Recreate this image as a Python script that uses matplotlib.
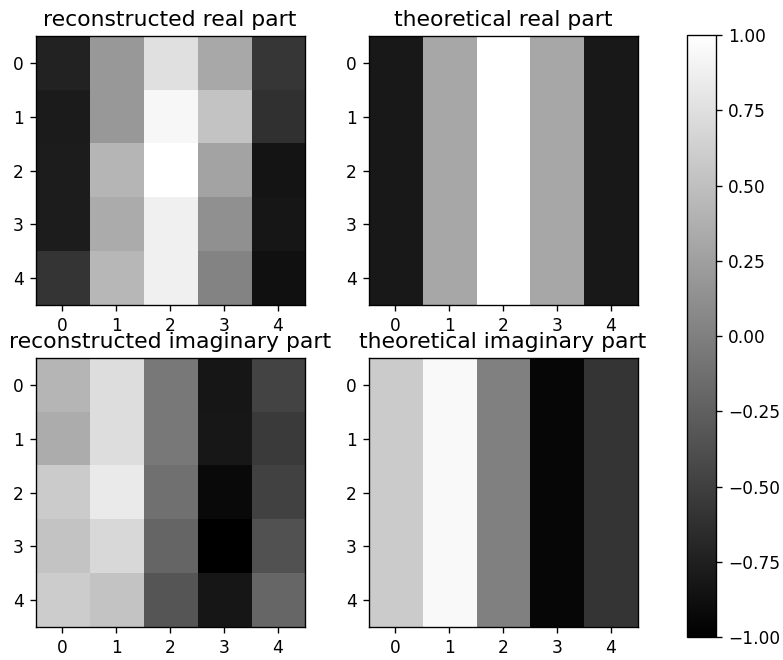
import numpy as np
import matplotlib
matplotlib.use("Agg")
import matplotlib.pyplot as plt

# values (gray colormap, -1 .. 1)
recon_real = [
    [-0.733, 0.192, 0.757, 0.318, -0.576],
    [-0.788, 0.192, 0.937, 0.537, -0.624],
    [-0.780, 0.420, 1.000, 0.278, -0.843],
    [-0.780, 0.341, 0.882, 0.129, -0.827],
    [-0.584, 0.435, 0.882, 0.027, -0.875],
]
theo_real = [
    [-0.809, 0.309, 1.0, 0.309, -0.809],
    [-0.809, 0.309, 1.0, 0.309, -0.809],
    [-0.809, 0.309, 1.0, 0.309, -0.809],
    [-0.809, 0.309, 1.0, 0.309, -0.809],
    [-0.809, 0.309, 1.0, 0.309, -0.809],
]
recon_imag = [
    [0.420, 0.733, -0.059, -0.827, -0.475],
    [0.349, 0.733, -0.059, -0.820, -0.545],
    [0.592, 0.835, -0.122, -0.922, -0.482],
    [0.529, 0.694, -0.208, -1.000, -0.357],
    [0.600, 0.537, -0.333, -0.827, -0.200],
]
theo_imag = [
    [0.588, 0.951, 0.0, -0.951, -0.588],
    [0.588, 0.951, 0.0, -0.951, -0.588],
    [0.588, 0.951, 0.0, -0.951, -0.588],
    [0.588, 0.951, 0.0, -0.951, -0.588],
    [0.588, 0.951, 0.0, -0.951, -0.588],
]
titles = ["reconstructed real part", "theoretical real part",
          "reconstructed imaginary part", "theoretical imaginary part"]

dpi = 122
fig = plt.figure(figsize=(783 / dpi, 660 / dpi), dpi=dpi)
W, H = 783, 660

def px_axes(left, top, right, bottom):
    return fig.add_axes([left / W, 1 - bottom / H, (right - left) / W, (bottom - top) / H])

boxes = [(35, 36, 305, 305), (368, 36, 638, 305),
         (35, 358, 305, 627), (368, 358, 638, 627)]
datas = [recon_real, theo_real, recon_imag, theo_imag]

for box, data, title in zip(boxes, datas, titles):
    ax = px_axes(*box)
    im = ax.imshow(np.array(data), cmap="gray", vmin=-1, vmax=1)
    ax.set_title(title, fontsize=12.9)
    ax.set_xticks(range(5))
    ax.set_yticks(range(5))

cax = px_axes(687, 35, 716, 637)
cb = fig.colorbar(im, cax=cax)
cb.set_ticks(np.arange(-1, 1.01, 0.25))

fig.savefig("out.png", dpi=dpi)
